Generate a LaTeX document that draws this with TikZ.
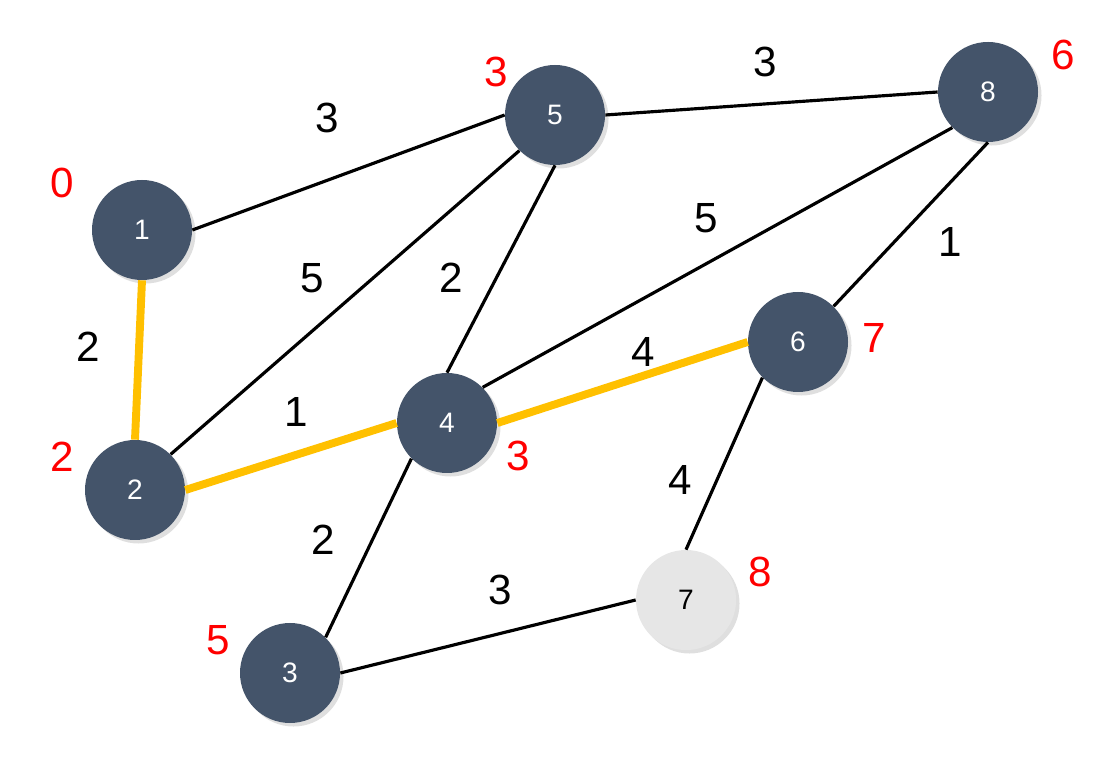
\documentclass[tikz,border=0pt]{standalone}
\usepackage{fontspec}
\setmainfont{Liberation Sans}
\usetikzlibrary{shadows}
\definecolor{slate}{HTML}{44546A}
\definecolor{lgray}{HTML}{E6E6E6}
\definecolor{gold}{HTML}{FFC000}
\tikzset{
  vtx/.style={circle,fill=slate,text=white,minimum size=2cm,inner sep=0pt,font=\fontsize{16}{18}\selectfont,drop shadow={opacity=0.25,shadow xshift=2pt,shadow yshift=-2pt}},
  vtxl/.style={vtx,fill=lgray,text=black},
  e/.style={line width=1.8pt,black},
  hl/.style={line width=4.5pt,gold},
  wt/.style={font=\fontsize{24}{28}\selectfont},
  dst/.style={font=\fontsize{24}{28}\selectfont,text=red},
}
\begin{document}
\begin{tikzpicture}
  \useasboundingbox (0,0) rectangle (22.32,15.36);
  % vertices
  \node[vtx] (v1) at (2.84,10.76) {1};
  \node[vtx] (v2) at (2.70,5.56) {2};
  \node[vtx] (v3) at (5.80,1.90) {3};
  \node[vtx] (v4) at (8.94,6.90) {4};
  \node[vtx] (v5) at (11.10,13.06) {5};
  \node[vtx] (v6) at (15.96,8.52) {6};
  \node[vtxl] (v7) at (13.72,3.36) {7};
  \node[vtx] (v8) at (19.76,13.52) {8};
  % edges
  \draw[e] (v1.east) -- (v5.west);
  \draw[e] (v2.north east) -- (v5.south west);
  \draw[e] (v4.north) -- (v5.south);
  \draw[e] (v4.north east) -- (v8.south west);
  \draw[e] (v5.east) -- (v8.west);
  \draw[e] (v6.north east) -- (v8.south);
  \draw[e] (v3.north east) -- (v4.south west);
  \draw[e] (v6.south west) -- (v7.north);
  \draw[e] (v3.east) -- (v7.west);
  \draw[hl] (v1.south) -- (v2.north);
  \draw[hl] (v2.east) -- (v4.west);
  \draw[hl] (v4.east) -- (v6.west);
  % weights
  \node[wt] (w15) at (6.54,13.00) {3};
  \node[wt] (w12) at (1.76,8.42) {2};
  \node[wt] (w25) at (6.24,9.80) {5};
  \node[wt] (w45) at (9.02,9.80) {2};
  \node[wt] (w48) at (14.12,11.00) {5};
  \node[wt] (w58) at (15.30,14.12) {3};
  \node[wt] (w68) at (19.00,10.52) {1};
  \node[wt] (w46) at (12.86,8.32) {4};
  \node[wt] (w24) at (5.92,7.12) {1};
  \node[wt] (w34) at (6.46,4.56) {2};
  \node[wt] (w67) at (13.60,5.76) {4};
  \node[wt] (w37) at (10.00,3.56) {3};
  % distances
  \node[dst] (d1) at (1.24,11.70) {0};
  \node[dst] (d2) at (1.24,6.22) {2};
  \node[dst] (d3) at (4.36,2.56) {5};
  \node[dst] (d4) at (10.36,6.24) {3};
  \node[dst] (d5) at (9.92,13.92) {3};
  \node[dst] (d6) at (17.48,8.60) {7};
  \node[dst] (d7) at (15.20,3.92) {8};
  \node[dst] (d8) at (21.26,14.26) {6};
\end{tikzpicture}
\end{document}
